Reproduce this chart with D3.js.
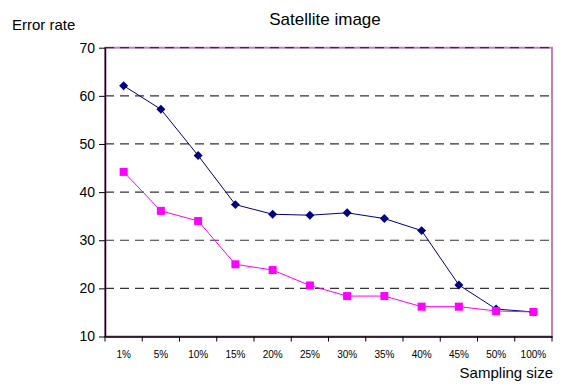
<!DOCTYPE html>
<html><head><meta charset="utf-8">
<script src="https://cdn.jsdelivr.net/npm/d3@7"></script>
<style>body{margin:0;background:#fff}svg{display:block;font-family:"Liberation Sans",Arial,sans-serif}</style>
</head><body><svg id="c" width="565" height="385"></svg>
<script>
const categories = ["1%","5%","10%","15%","20%","25%","30%","35%","40%","45%","50%","100%"];
const seriesA = [62.1,57.2,47.6,37.4,35.4,35.2,35.7,34.5,32.0,20.7,15.7,15.1];
const seriesB = [44.2,36.1,34.0,25.0,23.8,20.6,18.4,18.4,16.2,16.2,15.3,15.1];
const yTicks = [10,20,30,40,50,60,70];

const svg = d3.select("#c");
const L=105,R=552,T=47.7,B=336.5;
const x = d3.scaleBand().domain(categories).range([L,R]);
const y = d3.scaleLinear().domain([10,70]).range([B,T]);

// plot border
svg.append("rect").attr("x",L).attr("y",T).attr("width",R-L).attr("height",B-T)
  .attr("fill","none").attr("stroke","#c080c0").attr("stroke-width",2);
// gridlines
svg.append("g").selectAll("line").data(yTicks.filter(d=>d>10)).join("line")
  .attr("x1",L).attr("x2",R).attr("y1",d=>y(d)).attr("y2",d=>y(d))
  .attr("stroke","#333").attr("stroke-width",1.2).attr("stroke-dasharray","9,6");

// axes
const ya = svg.append("g").attr("transform",`translate(${L},0)`)
  .call(d3.axisLeft(y).tickValues(yTicks).tickSize(6).tickSizeOuter(0).tickPadding(4));
ya.select(".domain").attr("stroke","#000").attr("stroke-width",1.5);
ya.selectAll(".tick line").attr("stroke","#000");
ya.selectAll("text").attr("font-size",14).attr("fill","#000").attr("font-family","Liberation Sans, Arial");

const xa = svg.append("g").attr("transform",`translate(0,${B})`)
  .call(d3.axisBottom(x).tickSize(0).tickPadding(14));
xa.select(".domain").attr("stroke","#000").attr("stroke-width",1.5);
xa.selectAll("text").attr("font-size",10).attr("fill","#000").attr("font-family","Liberation Sans, Arial");
// x tick marks at band boundaries
svg.append("g").selectAll("line").data(categories).join("line")
  .attr("x1",d=>x(d)).attr("x2",d=>x(d)).attr("y1",B).attr("y2",B+5)
  .attr("stroke","#000");
svg.append("line").attr("x1",R).attr("x2",R).attr("y1",B).attr("y2",B+5).attr("stroke","#000");

const cx = d=>x(d)+x.bandwidth()/2;
const line = d3.line().x((d,i)=>cx(categories[i])).y(d=>y(d));
svg.append("path").datum(seriesA).attr("d",line).attr("fill","none").attr("stroke","#000080").attr("stroke-width",1);
svg.append("path").datum(seriesB).attr("d",line).attr("fill","none").attr("stroke","#ff00ff").attr("stroke-width",1);

svg.append("g").selectAll("path").data(seriesA).join("path")
  .attr("d",d3.symbol(d3.symbolSquare,40))
  .attr("transform",(d,i)=>`translate(${cx(categories[i])},${y(d)}) rotate(45)`)
  .attr("fill","#000080");
svg.append("g").selectAll("rect").data(seriesB).join("rect")
  .attr("x",(d,i)=>cx(categories[i])-4).attr("y",d=>y(d)-4).attr("width",8).attr("height",8)
  .attr("fill","#ff00ff");

svg.append("text").attr("x",325).attr("y",25).attr("text-anchor","middle")
  .attr("font-size",17).text("Satellite image");
svg.append("text").attr("x",12).attr("y",30).attr("font-size",15).text("Error rate");
svg.append("text").attr("x",553).attr("y",378).attr("text-anchor","end").attr("font-size",15).text("Sampling size");
</script></body></html>
